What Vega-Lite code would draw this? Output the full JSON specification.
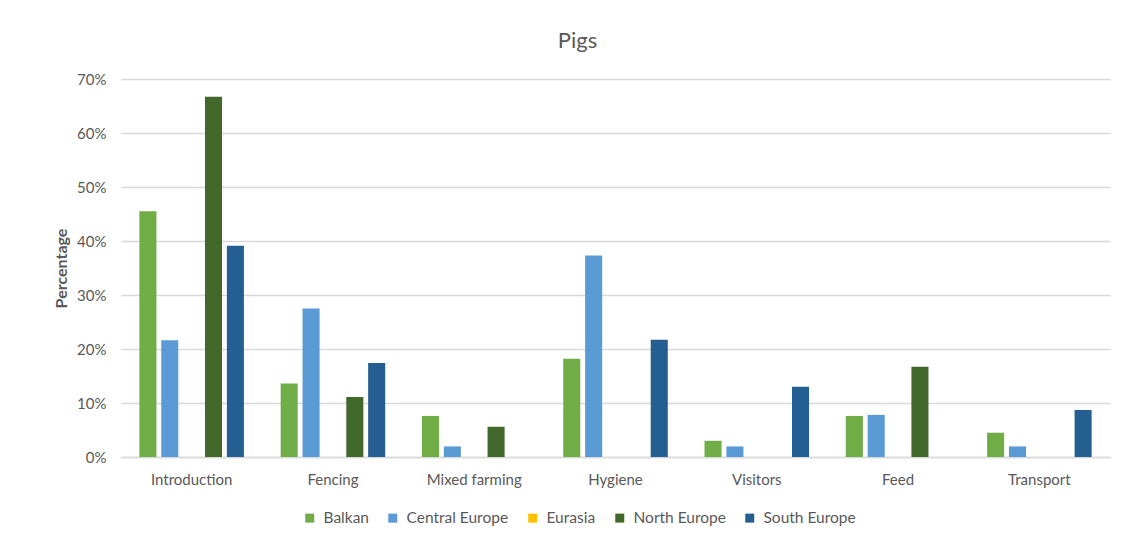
{
  "$schema": "https://vega.github.io/schema/vega-lite/v6.json",
  "autosize": "none",
  "width": 989,
  "height": 378,
  "padding": {"left": 121, "top": 79, "right": 17, "bottom": 83},
  "background": "white",
  "title": {"text": "Pigs", "font": "Lato", "fontSize": 22, "fontWeight": "normal", "color": "#595959", "anchor": "middle", "dx": -38, "offset": 19},
  "data": {"values": [
    {"category": "Introduction", "region": "Balkan", "value": 0.455},
    {"category": "Introduction", "region": "Central Europe", "value": 0.216},
    {"category": "Introduction", "region": "Eurasia", "value": 0},
    {"category": "Introduction", "region": "North Europe", "value": 0.667},
    {"category": "Introduction", "region": "South Europe", "value": 0.391},
    {"category": "Fencing", "region": "Balkan", "value": 0.136},
    {"category": "Fencing", "region": "Central Europe", "value": 0.275},
    {"category": "Fencing", "region": "Eurasia", "value": 0},
    {"category": "Fencing", "region": "North Europe", "value": 0.111},
    {"category": "Fencing", "region": "South Europe", "value": 0.174},
    {"category": "Mixed farming", "region": "Balkan", "value": 0.076},
    {"category": "Mixed farming", "region": "Central Europe", "value": 0.0196},
    {"category": "Mixed farming", "region": "Eurasia", "value": 0},
    {"category": "Mixed farming", "region": "North Europe", "value": 0.056},
    {"category": "Mixed farming", "region": "South Europe", "value": 0},
    {"category": "Hygiene", "region": "Balkan", "value": 0.182},
    {"category": "Hygiene", "region": "Central Europe", "value": 0.373},
    {"category": "Hygiene", "region": "Eurasia", "value": 0},
    {"category": "Hygiene", "region": "North Europe", "value": 0},
    {"category": "Hygiene", "region": "South Europe", "value": 0.217},
    {"category": "Visitors", "region": "Balkan", "value": 0.030},
    {"category": "Visitors", "region": "Central Europe", "value": 0.0196},
    {"category": "Visitors", "region": "Eurasia", "value": 0},
    {"category": "Visitors", "region": "North Europe", "value": 0},
    {"category": "Visitors", "region": "South Europe", "value": 0.130},
    {"category": "Feed", "region": "Balkan", "value": 0.076},
    {"category": "Feed", "region": "Central Europe", "value": 0.078},
    {"category": "Feed", "region": "Eurasia", "value": 0},
    {"category": "Feed", "region": "North Europe", "value": 0.167},
    {"category": "Feed", "region": "South Europe", "value": 0},
    {"category": "Transport", "region": "Balkan", "value": 0.045},
    {"category": "Transport", "region": "Central Europe", "value": 0.0196},
    {"category": "Transport", "region": "Eurasia", "value": 0},
    {"category": "Transport", "region": "North Europe", "value": 0},
    {"category": "Transport", "region": "South Europe", "value": 0.087}
  ]},
  "mark": {"type": "bar"},
  "encoding": {
    "x": {
      "field": "category", "type": "nominal",
      "sort": ["Introduction", "Fencing", "Mixed farming", "Hygiene", "Visitors", "Feed", "Transport"],
      "scale": {"paddingInner": 0.26, "paddingOuter": 0.13},
      "axis": {"title": null, "labelAngle": 0, "labelFont": "Lato", "labelFontSize": 15, "labelColor": "#595959", "labelPadding": 15, "ticks": false, "domainColor": "#D9D9D9", "domainWidth": 1.5}
    },
    "xOffset": {
      "field": "region", "type": "nominal",
      "sort": ["Balkan", "Central Europe", "Eurasia", "North Europe", "South Europe"],
      "scale": {"paddingInner": 0.22, "paddingOuter": 0}
    },
    "y": {
      "field": "value", "type": "quantitative",
      "scale": {"domain": [0, 0.7], "nice": false},
      "axis": {"title": "Percentage", "format": ".0%", "values": [0, 0.1, 0.2, 0.3, 0.4, 0.5, 0.6, 0.7], "titleFont": "Lato", "titleFontSize": 16, "titleFontWeight": "bold", "titleColor": "#595959", "titlePadding": 7, "labelFont": "Lato", "labelFontSize": 15, "labelColor": "#595959", "labelPadding": 15, "ticks": false, "domain": false, "gridColor": "#D9D9D9", "gridWidth": 1.5}
    },
    "color": {
      "field": "region", "type": "nominal",
      "sort": ["Balkan", "Central Europe", "Eurasia", "North Europe", "South Europe"],
      "scale": {"domain": ["Balkan", "Central Europe", "Eurasia", "North Europe", "South Europe"], "range": ["#70AD47", "#5B9BD5", "#FFC000", "#43682B", "#255E91"]},
      "legend": {"title": null, "orient": "none", "legendX": 181, "legendY": 431, "direction": "horizontal", "symbolType": "square", "symbolSize": 81, "symbolStrokeWidth": 0, "labelFont": "Lato", "labelFontSize": 15.5, "labelColor": "#595959", "columnPadding": 16, "labelOffset": 6}
    }
  },
  "config": {"view": {"stroke": null}}
}
